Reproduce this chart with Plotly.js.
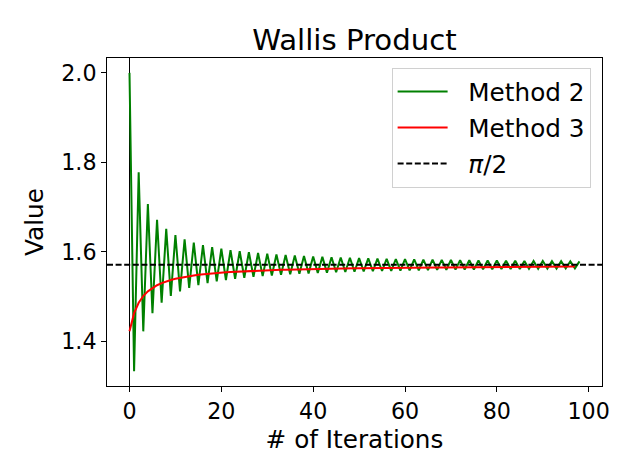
<!DOCTYPE html>
<html>
<head>
<meta charset="utf-8">
<script src="https://cdn.plot.ly/plotly-3.0.1.min.js"></script>
<style>
  html, body { margin: 0; padding: 0; background: #fff; }
  #plot { width: 640px; height: 476px; }
</style>
</head>
<body>
<div id="plot"></div>
<script>
// Wallis partial products (one value per iteration)
const method2 = [
    2.0000, 1.3333, 1.7778, 1.4222, 1.7067, 1.4629, 1.6718, 1.4861, 1.6512, 1.5011,
    1.6376, 1.5116, 1.6279, 1.5193, 1.6206, 1.5253, 1.6150, 1.5300, 1.6106, 1.5339,
    1.6069, 1.5370, 1.6039, 1.5397, 1.6013, 1.5420, 1.5991, 1.5440, 1.5972, 1.5457,
    1.5955, 1.5472, 1.5941, 1.5485, 1.5928, 1.5497, 1.5916, 1.5508, 1.5906, 1.5518,
    1.5896, 1.5527, 1.5887, 1.5535, 1.5879, 1.5542, 1.5872, 1.5549, 1.5866, 1.5555,
    1.5860, 1.5561, 1.5854, 1.5566, 1.5849, 1.5571, 1.5844, 1.5575, 1.5839, 1.5580,
    1.5835, 1.5584, 1.5831, 1.5588, 1.5827, 1.5591, 1.5824, 1.5595, 1.5820, 1.5598,
    1.5817, 1.5601, 1.5814, 1.5604, 1.5812, 1.5606, 1.5809, 1.5609, 1.5806, 1.5611,
    1.5804, 1.5614, 1.5802, 1.5616, 1.5800, 1.5618, 1.5797, 1.5620, 1.5795, 1.5622,
    1.5794, 1.5624, 1.5792, 1.5626, 1.5790, 1.5627, 1.5788, 1.5629, 1.5787
];

const method3 = [
    1.4222, 1.4629, 1.4861, 1.5011, 1.5116, 1.5193, 1.5253, 1.5300, 1.5339, 1.5370,
    1.5397, 1.5420, 1.5440, 1.5457, 1.5472, 1.5485, 1.5497, 1.5508, 1.5518, 1.5527,
    1.5535, 1.5542, 1.5549, 1.5555, 1.5561, 1.5566, 1.5571, 1.5575, 1.5580, 1.5584,
    1.5588, 1.5591, 1.5595, 1.5598, 1.5601, 1.5604, 1.5606, 1.5609, 1.5611, 1.5614,
    1.5616, 1.5618, 1.5620, 1.5622, 1.5624, 1.5626, 1.5627, 1.5629, 1.5630, 1.5632,
    1.5633, 1.5635, 1.5636, 1.5637, 1.5639, 1.5640, 1.5641, 1.5642, 1.5643, 1.5644,
    1.5645, 1.5646, 1.5647, 1.5648, 1.5649, 1.5650, 1.5651, 1.5652, 1.5652, 1.5653,
    1.5654, 1.5655, 1.5655, 1.5656, 1.5657, 1.5657, 1.5658, 1.5659, 1.5659, 1.5660,
    1.5660, 1.5661, 1.5662, 1.5662, 1.5663, 1.5663, 1.5664, 1.5664, 1.5665, 1.5665,
    1.5666, 1.5666, 1.5666, 1.5667, 1.5667, 1.5668, 1.5668, 1.5669
];

const piHalf = Math.PI / 2;
const xTicks = [0, 20, 40, 60, 80, 100];
const yTicks = [1.4, 1.6, 1.8, 2.0];
const xRange = [-4.9, 102.9];
const yRange = [1.3, 2.0333];

const font = "DejaVu Sans";
const gap = '&nbsp;&nbsp;';   // space between legend line and label

let trace2 = {
    x: method2.map((v, i) => i),
    y: method2,
    mode: 'lines',
    name: gap + 'Method 2',
    legendgroup: 'a',
    line: { color: 'green', width: 2 }
};

let trace3 = {
    x: method3.map((v, i) => i),
    y: method3,
    mode: 'lines',
    name: gap + 'Method 3',
    legendgroup: 'b',
    line: { color: 'red', width: 2 }
};

// horizontal reference spanning the whole axis
let traceRef = {
    x: xRange,
    y: [piHalf, piHalf],
    mode: 'lines',
    name: gap + '<i>π</i>/2',
    legendgroup: 'c',
    line: { color: 'black', width: 2, dash: '6px,2.6px' }
};

let layout = {
    width: 640,
    height: 476,
    margin: { l: 107, r: 38, t: 58, b: 90 },
    paper_bgcolor: 'white',
    plot_bgcolor: 'white',
    font: { family: font, size: 22.2, color: 'black' },
    showlegend: true,
    title: {
        text: 'Wallis Product',
        font: { family: font, size: 29.2, color: 'black' },
        xref: 'paper', x: 0.5, xanchor: 'center',
        yref: 'container', y: 1 - 40 / 476, yanchor: 'middle'
    },
    xaxis: {
        range: xRange,
        tickvals: xTicks,
        tickfont: { size: 22.2 },
        ticks: 'outside', ticklen: 5, tickwidth: 1, tickcolor: 'black',
        showgrid: false,
        zeroline: true, zerolinecolor: 'black', zerolinewidth: 1,
        showline: true, mirror: true, linecolor: 'black', linewidth: 1,
        title: { text: '# of Iterations', standoff: 8, font: { size: 24.7 } }
    },
    yaxis: {
        range: yRange,
        tickvals: yTicks,
        tickformat: '.1f',
        tickfont: { size: 22.2 },
        ticks: 'outside', ticklen: 5, tickwidth: 1, tickcolor: 'black',
        showgrid: false,
        zeroline: false,
        showline: true, mirror: true, linecolor: 'black', linewidth: 1,
        title: { text: 'Value', standoff: 10, font: { size: 24.7 } }
    },
    legend: {
        x: 0.977, xanchor: 'right',
        y: 0.97, yanchor: 'top',
        traceorder: 'grouped',
        tracegroupgap: 1,
        itemwidth: 50,
        bgcolor: 'rgba(255,255,255,0.8)',
        bordercolor: '#d0d0d0',
        borderwidth: 1,
        font: { family: font, size: 24.7, color: 'black' }
    }
};

Plotly.newPlot('plot', [trace2, trace3, traceRef], layout, { displayModeBar: false, staticPlot: true });
</script>
</body>
</html>
